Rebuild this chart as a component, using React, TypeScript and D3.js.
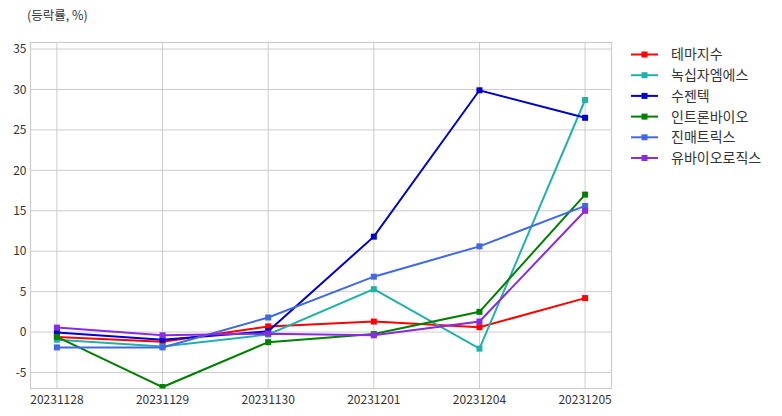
import React from "react";
import * as d3 from "d3";

const dates = ["20231128", "20231129", "20231130", "20231201", "20231204", "20231205"];
const seriesNames = ["테마지수", "녹십자엠에스", "수젠텍", "인트론바이오", "진매트릭스", "유바이오로직스"];
const seriesColors = ["#ff0000", "#20b2aa", "#0000cd", "#008000", "#4169e1", "#8a2be2"];
const themeIndex = [-0.6, -1.2, 0.7, 1.3, 0.6, 4.2];
const gcMs = [-0.95, -1.8, -0.3, 5.3, -2.05, 28.7];
const sugentech = [-0.05, -0.95, 0.1, 11.8, 29.9, 26.5];
const intronBio = [-0.6, -6.8, -1.25, -0.25, 2.5, 17.0];
const genematrix = [-1.9, -1.9, 1.8, 6.85, 10.6, 15.6];
const eubiologics = [0.55, -0.4, -0.2, -0.4, 1.3, 15.0];
const seriesValues = [themeIndex, gcMs, sugentech, intronBio, genematrix, eubiologics];
const yTicks = [-5, 0, 5, 10, 15, 20, 25, 30, 35];

const W = 782, H = 416;
const left = 30.5, right = 611.5, top = 42.5, bottom = 388.5;
const font = "'Noto Sans CJK KR', 'Noto Sans', sans-serif";

export default function App() {
  const x = d3.scalePoint<string>().domain(dates).range([left, right]).padding(0.25);
  const y = d3.scaleLinear().domain([-6.98, 35.81]).range([bottom, top]);
  const line = d3.line<number>().x((_, i) => x(dates[i]) as number).y((v) => y(v));
  return (
    <svg width={W} height={H} style={{ position: "absolute", left: 0, top: 0 }} fontFamily={font}>
      <defs>
        <clipPath id="plot">
          <rect x={left} y={top} width={right - left} height={bottom - top} />
        </clipPath>
      </defs>
      <rect width={W} height={H} fill="#fff" />
      {yTicks.map((t) => (
        <g key={t}>
          <line x1={left} x2={right} y1={y(t)} y2={y(t)} stroke="#cccccc" strokeWidth={1} />
          <text x={left - 4} y={y(t)} dy="0.35em" textAnchor="end" fontSize={12} fill="#333">{t}</text>
        </g>
      ))}
      {dates.map((d) => (
        <g key={d}>
          <line x1={x(d)} x2={x(d)} y1={top} y2={bottom} stroke="#cccccc" strokeWidth={1} />
          <text x={x(d)} y={bottom + 15} textAnchor="middle" fontSize={12} fill="#333">{d}</text>
        </g>
      ))}
      <rect x={left} y={top} width={right - left} height={bottom - top} fill="none" stroke="#cccccc" strokeWidth={1.2} />
      <g clipPath="url(#plot)">
        {seriesValues.map((vals, si) => (
          <g key={si}>
            <path d={line(vals) || ""} fill="none" stroke={seriesColors[si]} strokeWidth={2} />
            {vals.map((v, i) => (
              <rect key={i} x={(x(dates[i]) as number) - 3} y={y(v) - 3} width={6} height={6} fill={seriesColors[si]} />
            ))}
          </g>
        ))}
      </g>
      <text x={27} y={20} fontSize={12.5} fill="#333">(등락률, %)</text>
      {seriesNames.map((n, i) => {
        const ly = 54.5 + i * 20.7;
        return (
          <g key={n}>
            <line x1={631} x2={658} y1={ly} y2={ly} stroke={seriesColors[i]} strokeWidth={2} />
            <rect x={641.5} y={ly - 3} width={6} height={6} fill={seriesColors[i]} />
            <text x={671} y={ly} dy="0.35em" fontSize={14} fill="#333">{n}</text>
          </g>
        );
      })}
    </svg>
  );
}
